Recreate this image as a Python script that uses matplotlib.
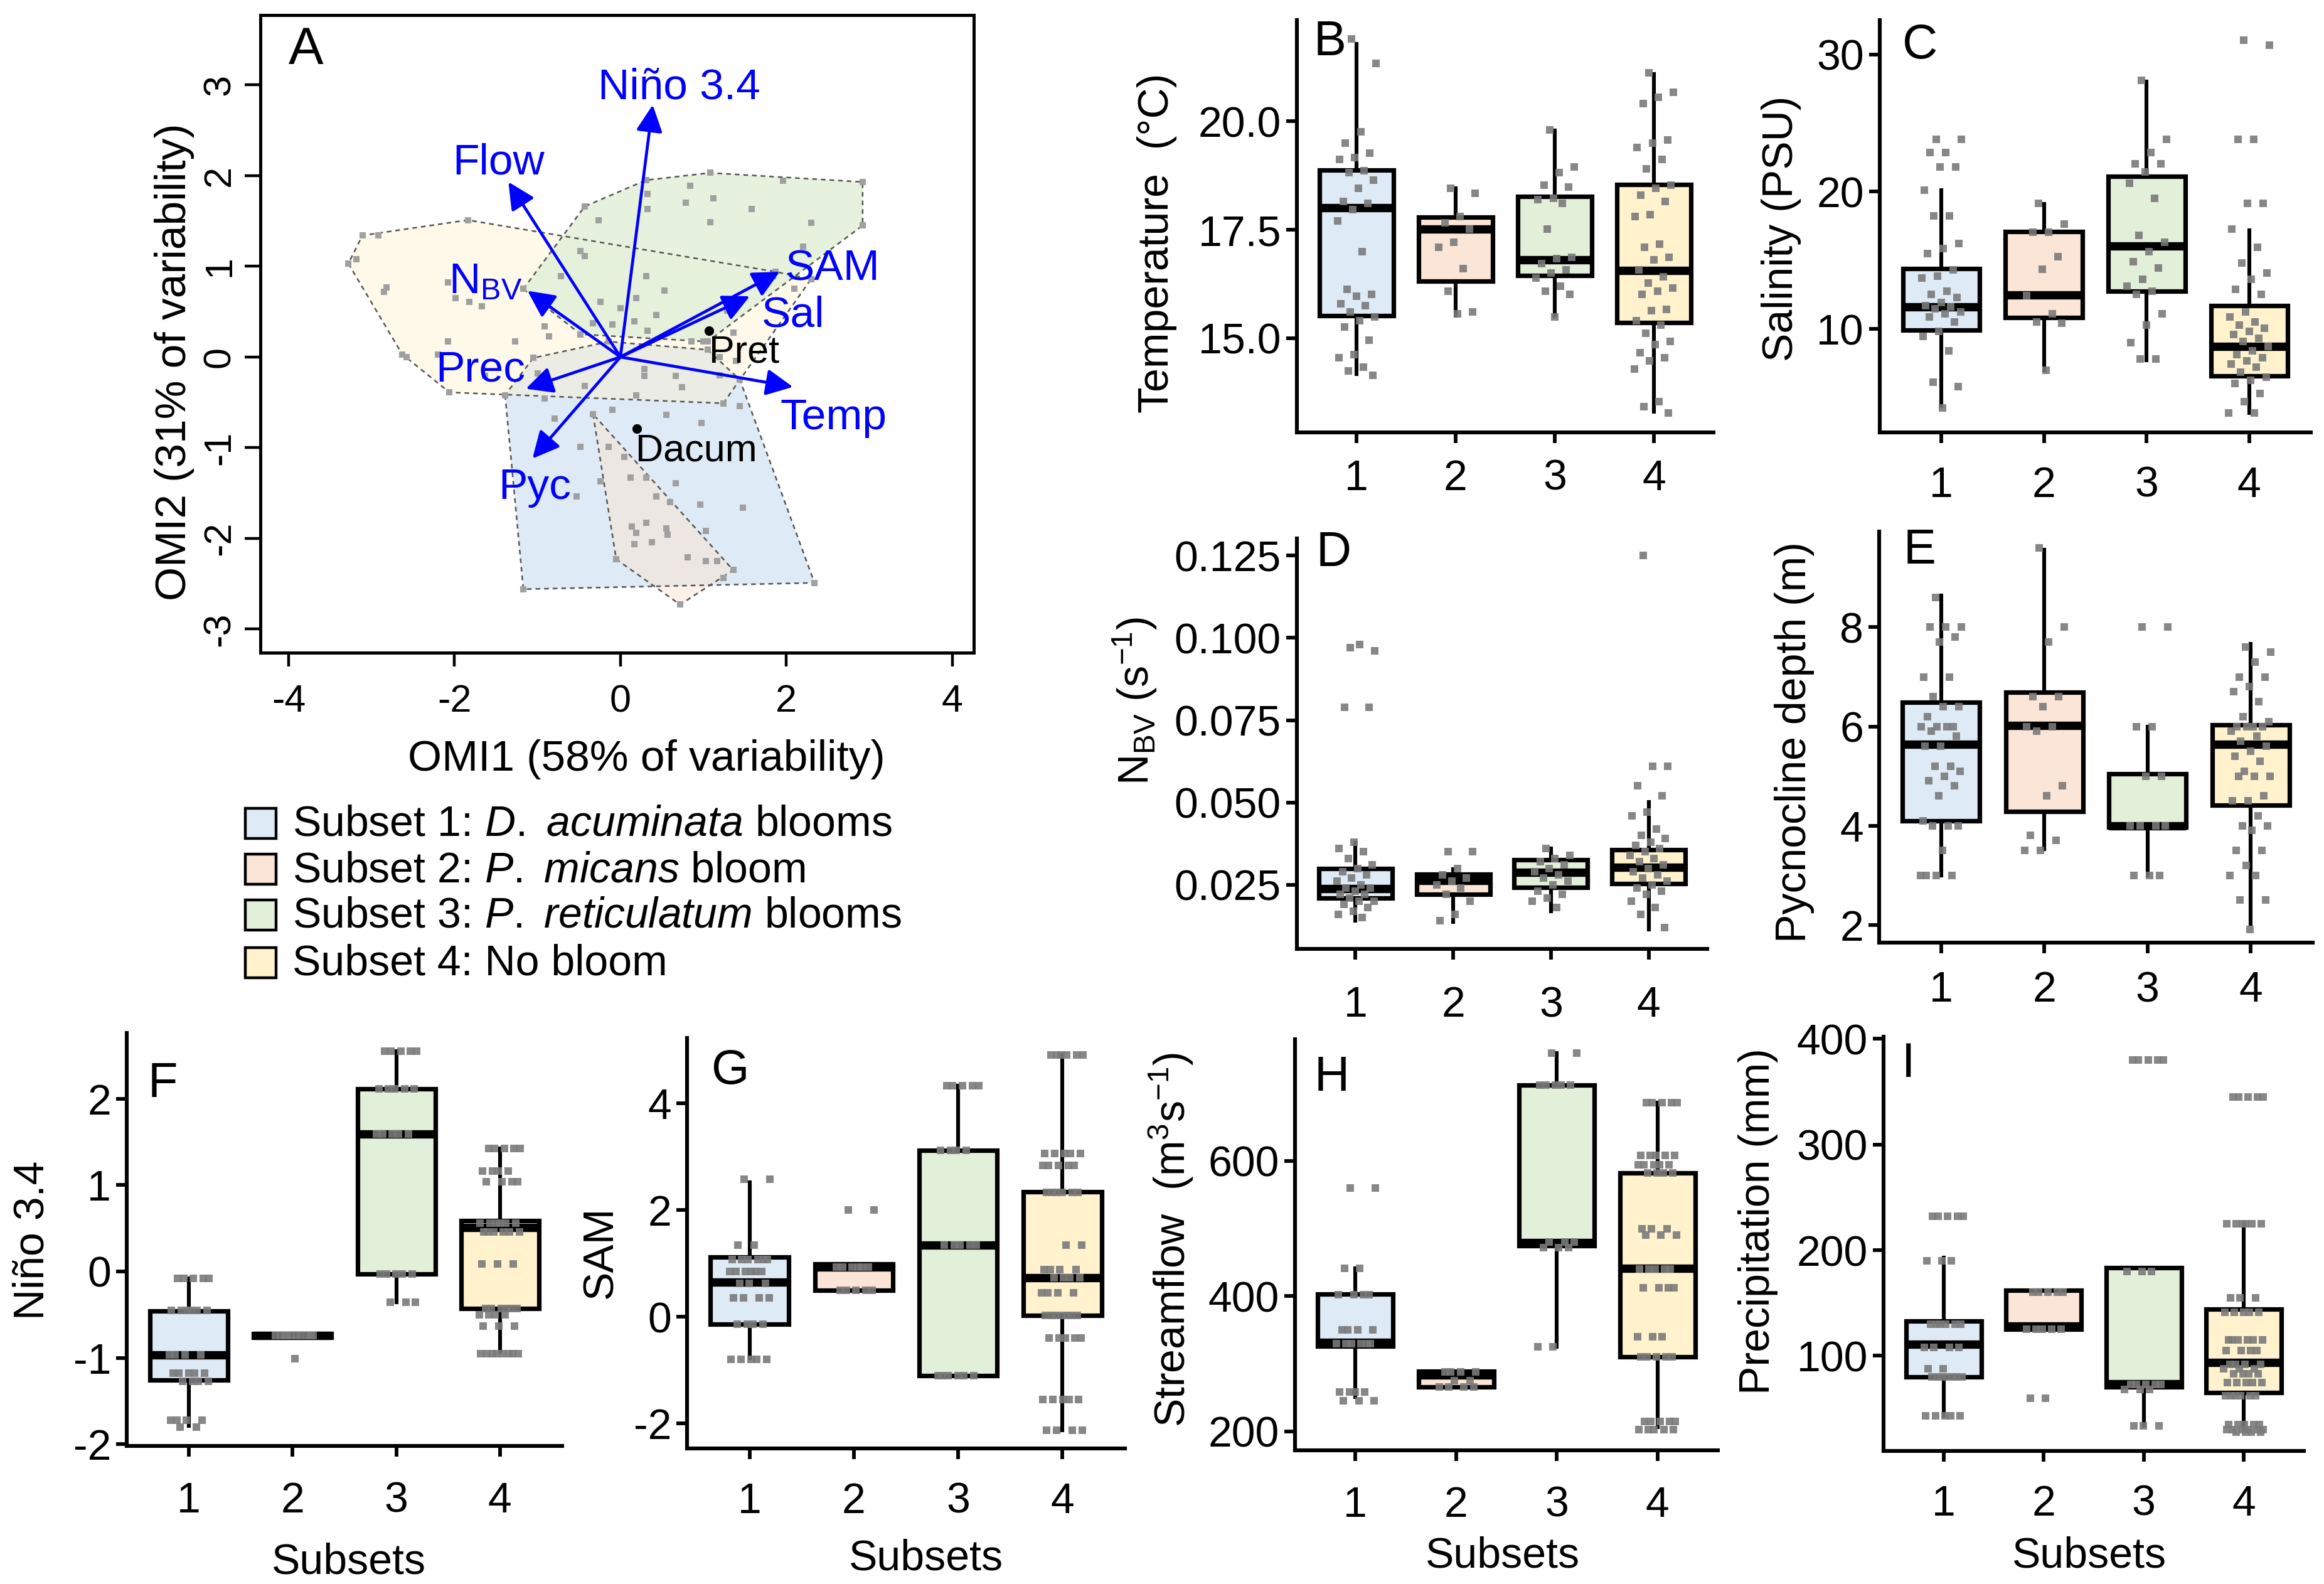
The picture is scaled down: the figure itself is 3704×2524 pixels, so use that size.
import numpy as np
import matplotlib
matplotlib.use('Agg')
import matplotlib.pyplot as plt
from matplotlib.patches import Polygon, Rectangle

plt.rcParams['font.family'] = ['Liberation Sans', 'DejaVu Sans']
plt.rcParams['mathtext.fontset'] = 'custom'
plt.rcParams['mathtext.rm'] = 'Liberation Sans'
plt.rcParams['mathtext.it'] = 'Liberation Sans:italic'
plt.rcParams['mathtext.bf'] = 'Liberation Sans:bold'
plt.rcParams['mathtext.default'] = 'regular'
plt.rcParams['axes.unicode_minus'] = False

# ---------------- data ----------------
subsets = ['1', '2', '3', '4']
subset_colors = ['#DEEBF7', '#FBE5D6', '#E2F0D9', '#FFF2CC']
legend_labels = [r'Subset 1: $\mathit{D.\ acuminata}$ blooms',
                 r'Subset 2: $\mathit{P.\ micans}$ bloom',
                 r'Subset 3: $\mathit{P.\ reticulatum}$ blooms',
                 'Subset 4: No bloom']

# Panel A: OMI sample scores per subset
omi_s1_x = [-1.39, -1.05, -0.14, 1.05, 1.44, 2.34, -1.17, -0.91, -0.79, -0.10, 0.55, 0.98, 1.44, -0.48, -0.14,
            -0.53, -0.24, 0.12, 0.67, 0.96, 1.48, 1.03, 1.24, 0.19, 0.29, 0.74, 1.20, -1.00]
omi_s1_y = [-0.42, -0.01, 0.17, 0.08, -0.25, -2.49, -2.56, -0.46, -0.68, -0.58, -0.64, -0.73, -0.54, -0.99, -0.99,
            -1.54, -1.37, -1.33, -1.39, -1.63, -1.66, -1.92, -2.44, -0.42, -0.13, -0.33, -0.20, -0.18]
omi_s2_x = [-0.33, 1.36, 0.72, -0.05, 0.14, 0.31, 0.19, 0.55, 0.57, 0.17, 0.38, 0.81, 1.03, 1.17, 0.31, 0.05, 0.60, 0.43]
omi_s2_y = [-0.63, -2.35, -2.73, -2.23, -1.87, -1.83, -1.94, -1.89, -1.96, -2.06, -2.04, -2.21, -2.25, -2.25, -1.33,
            -1.10, -1.60, -1.54]
omi_s3_x = [-1.17, -0.43, 0.31, 1.08, 2.92, 2.92, 1.84, 1.05, -0.48, 0.33, 0.84, 0.79, 1.12, 0.33, 1.58, 1.08, 1.96,
            2.30, 2.20, -0.26, -0.48, -0.43, 0.31, 0.53, -0.24, 0.19, 0.00, -0.72, 0.43, 0.17, -0.10, 0.33, -0.33]
omi_s3_y = [0.75, 1.66, 1.95, 2.03, 1.93, 1.45, 0.89, 0.17, 0.25, 1.80, 1.89, 1.70, 1.75, 1.63, 1.63, 1.49, 1.94,
            1.48, 1.22, 1.51, 1.17, 1.11, 0.89, 0.73, 0.61, 0.65, 0.54, 0.89, 0.46, 0.39, 0.36, 0.29, 0.37]
omi_s4_x = [-3.28, -3.11, -1.84, 1.87, 2.30, 1.44, 1.24, -2.06, -2.63, -3.18, -2.92, -2.82, -2.85, -2.08, -1.99,
            -1.82, -1.67, -2.08, -2.20, -1.27, -0.86, -0.91, 2.10, 1.29, 1.00, 1.36, 0.86, 1.39, 1.20, 0.67, 0.29,
            -0.43, -0.91, -1.63, -2.58]
omi_s4_y = [1.03, 1.34, 1.51, 0.94, 0.86, -0.25, -0.51, -0.39, 0.03, 1.08, 1.34, 0.77, 0.72, 0.82, 0.65, 0.61, 0.56,
            0.17, 0.03, 0.17, 0.23, 0.34, 0.75, 0.51, 0.17, 0.27, 0.17, -0.04, 0.00, -0.21, -0.21, -0.32, -0.28,
            -0.21, 0.00]

# Panel A: environmental variable arrows (OMI loadings)
var_names = ['Niño 3.4', 'Flow', r'N$_{\rm BV}$', 'SAM', 'Sal', 'Temp', 'Prec', 'Pyc']
var_x = [0.39, -1.35, -1.12, 1.92, 1.56, 2.08, -1.14, -1.06]
var_y = [2.78, 1.93, 0.73, 0.94, 0.67, -0.33, -0.35, -1.12]
species_names = ['Pret', 'Dacum']
species_x = [1.07, 0.20]
species_y = [0.29, -0.79]

# Boxplot statistics (median, quartiles, whisker ends) per subset
temp_med = [18.00, 17.51, 16.80, 16.56]
temp_q1 = [15.52, 16.31, 16.45, 15.36]
temp_q3 = [18.88, 17.79, 18.26, 18.54]
temp_lo = [14.18, 15.52, 15.52, 13.31]
temp_hi = [21.78, 18.46, 19.78, 21.09]
temp_pts = [
    [21.90, 21.33, 19.76, 19.50, 19.27, 19.16, 19.12, 18.86, 18.82, 18.64, 18.45, 18.15, 18.11, 17.96, 17.70, 16.99,
     16.12, 16.01, 15.97, 15.79, 15.75, 15.60, 15.49, 15.41, 15.26, 14.96, 14.63, 14.55, 14.33, 14.25, 14.14],
    [18.45, 18.34, 17.81, 17.66, 17.51, 17.21, 17.10, 16.61, 16.09, 15.60, 15.56],
    [19.80, 18.94, 18.82, 18.52, 18.49, 18.22, 18.19, 18.11, 17.51, 16.87, 16.84, 16.72, 16.57, 16.50, 16.39, 16.20,
     16.09, 16.01, 15.49],
    [21.11, 20.66, 20.55, 20.40, 19.57, 19.50, 19.39, 19.12, 18.90, 18.52, 18.45, 18.30, 18.15, 17.85, 17.81, 17.17,
     17.10, 16.87, 16.80, 16.57, 16.42, 16.27, 16.16, 16.09, 16.01, 15.67, 15.64, 15.41, 15.30, 15.11, 14.93, 14.85,
     14.66, 14.55, 14.48, 14.29, 13.54, 13.43, 13.28]]

sal_med = [11.59, 12.46, 16.04, 8.74]
sal_q1 = [9.93, 10.81, 12.73, 6.56]
sal_q3 = [14.38, 17.09, 21.11, 11.71]
sal_lo = [4.36, 6.97, 7.73, 3.89]
sal_hi = [20.12, 19.10, 28.00, 17.16]
sal_pts = [
    [23.80, 23.80, 22.84, 22.84, 21.78, 21.78, 20.12, 18.22, 18.22, 16.21, 15.85, 15.50, 14.31, 13.84, 13.72, 12.77,
     12.54, 12.30, 11.94, 11.71, 11.59, 11.47, 11.23, 11.11, 10.88, 10.52, 9.81, 9.45, 8.39, 6.14, 5.78, 4.24],
    [19.17, 17.63, 17.04, 17.04, 15.26, 14.36, 12.42, 11.11, 10.52, 10.40, 6.97],
    [28.10, 23.80, 22.84, 22.01, 22.01, 21.42, 20.59, 19.53, 16.80, 16.33, 15.62, 14.91, 14.43, 13.60, 13.13, 12.77,
     12.54, 11.11, 10.28, 8.98, 7.80, 7.80],
    [31.02, 30.66, 23.80, 23.80, 19.17, 19.17, 17.28, 15.97, 14.79, 14.08, 13.60, 12.89, 12.54, 11.23, 10.88, 10.52,
     10.28, 10.04, 9.81, 9.57, 9.33, 9.10, 8.74, 8.39, 8.15, 7.91, 7.68, 7.44, 7.20, 6.85, 6.49, 6.26, 6.02, 5.31,
     4.72, 3.89, 3.89]]

nbv_med = [0.0238, 0.0263, 0.0287, 0.0302]
nbv_q1 = [0.0209, 0.0221, 0.0242, 0.0253]
nbv_q3 = [0.0300, 0.0282, 0.0325, 0.0357]
nbv_lo = [0.0141, 0.0137, 0.0169, 0.0115]
nbv_hi = [0.0377, 0.0297, 0.0360, 0.0502]
nbv_pts = [
    [0.097, 0.096, 0.098, 0.079, 0.079, 0.038, 0.036, 0.035, 0.033, 0.031, 0.030, 0.029, 0.028, 0.027, 0.026, 0.025,
     0.024, 0.024, 0.023, 0.022, 0.022, 0.021, 0.020, 0.020, 0.019, 0.018, 0.017, 0.016, 0.015],
    [0.035, 0.035, 0.030, 0.028, 0.027, 0.026, 0.025, 0.024, 0.022, 0.020, 0.016, 0.014],
    [0.036, 0.034, 0.033, 0.032, 0.031, 0.030, 0.029, 0.028, 0.027, 0.026, 0.025, 0.023, 0.022, 0.021, 0.020, 0.018],
    [0.125, 0.061, 0.061, 0.055, 0.052, 0.047, 0.046, 0.042, 0.040, 0.039, 0.038, 0.037, 0.036, 0.035, 0.034, 0.033,
     0.032, 0.031, 0.030, 0.029, 0.028, 0.027, 0.026, 0.025, 0.024, 0.023, 0.022, 0.020, 0.018, 0.016, 0.012]]

pyc_med = [5.64, 6.02, 4.00, 5.64]
pyc_q1 = [4.09, 4.28, 3.97, 4.41]
pyc_q3 = [6.49, 6.69, 5.04, 6.03]
pyc_lo = [2.99, 3.52, 2.99, 2.02]
pyc_hi = [8.64, 9.56, 6.00, 7.66]
pyc_pts = [
    [8.6, 8.0, 8.0, 8.0, 7.8, 7.7, 7.0, 7.0, 6.6, 6.4, 6.4, 6.2, 6.0, 6.0, 6.0, 6.0, 5.9, 5.8, 5.6, 5.6, 5.2, 5.2,
     5.1, 5.0, 4.9, 4.8, 4.6, 4.1, 4.0, 4.0, 4.0, 3.5, 3.0, 3.0, 3.0, 3.0],
    [9.6, 8.0, 7.7, 6.6, 6.6, 6.4, 6.0, 6.0, 5.9, 4.8, 4.6, 3.8, 3.7, 3.5, 3.5],
    [8.0, 8.0, 6.0, 6.0, 5.0, 5.0, 4.0, 4.0, 4.0, 4.0, 3.0, 3.0, 3.0],
    [7.6, 7.5, 7.3, 7.0, 7.0, 6.8, 6.7, 6.5, 6.2, 6.1, 6.0, 6.0, 6.0, 6.0, 5.9, 5.8, 5.7, 5.6, 5.5, 5.4, 5.3, 5.1,
     5.0, 5.0, 5.0, 4.6, 4.5, 4.5, 4.2, 4.0, 4.0, 3.9, 3.5, 3.5, 3.2, 3.0, 3.0, 2.5, 2.5, 1.9]]

nino_med = [-0.97, -0.74, 1.59, 0.505]
nino_q1 = [-1.26, -0.76, -0.03, -0.43]
nino_q3 = [-0.455, -0.72, 2.11, 0.59]
nino_lo = [-1.79, -0.76, -0.36, -0.93]
nino_hi = [-0.08, -0.72, 2.55, 1.42]
nino_pts = [
    [-0.08, -0.08, -0.08, -0.08, -0.08, -0.45, -0.45, -0.45, -0.45, -0.45, -0.45, -0.97, -0.97, -0.97, -0.97,
     -1.18, -1.18, -1.18, -1.18, -1.18, -1.27, -1.27, -1.27, -1.27, -1.72, -1.72, -1.72, -1.72, -1.80, -1.80],
    [-0.74, -0.74, -0.74, -0.74, -0.74, -0.74, -0.74, -0.74, -0.74, -0.74, -1.01],
    [2.55, 2.55, 2.55, 2.55, 2.55, 2.11, 2.11, 2.11, 2.11, 2.11, 1.59, 1.59, 1.59, 1.59, 1.59,
     -0.03, -0.03, -0.03, -0.03, -0.03, -0.36, -0.36, -0.36],
    [1.42, 1.42, 1.42, 1.42, 1.42, 1.16, 1.16, 1.16, 1.16, 1.04, 1.04, 1.04, 1.04, 0.56, 0.56, 0.56, 0.56, 0.56,
     0.56, 0.46, 0.46, 0.46, 0.46, 0.46, 0.46, 0.09, 0.09, 0.09, -0.43, -0.43, -0.43, -0.43, -0.43, -0.43,
     -0.50, -0.50, -0.50, -0.50, -0.63, -0.63, -0.63, -0.95, -0.95, -0.95, -0.95, -0.95, -0.95, -0.95, -0.95]]

sam_med = [0.65, 0.93, 1.34, 0.73]
sam_q1 = [-0.14, 0.50, -1.10, 0.03]
sam_q3 = [1.12, 0.99, 3.12, 2.35]
sam_lo = [-0.77, 0.50, -1.10, -2.13]
sam_hi = [2.52, 0.99, 4.33, 4.91]
sam_pts = [
    [2.58, 2.58, 1.35, 1.35, 1.07, 1.07, 1.07, 1.07, 1.07, 1.07, 0.85, 0.85, 0.85, 0.85, 0.85, 0.85, 0.63, 0.63,
     0.63, 0.36, 0.36, 0.36, 0.36, -0.14, -0.14, -0.14, -0.14, -0.80, -0.80, -0.80, -0.80, -0.80],
    [2.00, 2.00, 0.93, 0.93, 0.93, 0.93, 0.93, 0.93, 0.50, 0.50, 0.50, 0.50, 0.50],
    [4.33, 4.33, 4.33, 4.33, 4.33, 3.12, 3.12, 3.12, 3.12, 1.34, 1.34, 1.34, 1.34, 1.34,
     -1.10, -1.10, -1.10, -1.10, -1.10, -1.10],
    [4.91, 4.91, 4.91, 4.91, 4.91, 4.91, 3.06, 3.06, 3.06, 3.06, 3.06, 2.84, 2.84, 2.84, 2.84, 2.84,
     2.33, 2.33, 2.33, 2.33, 2.33, 2.33, 1.34, 1.34, 0.88, 0.88, 0.88, 0.88, 0.73, 0.73, 0.73, 0.73,
     0.45, 0.45, 0.45, 0.45, 0.03, 0.03, 0.03, 0.03, 0.03, 0.03, 0.03, -0.40, -0.40, -0.40, -0.40, -0.40,
     -1.55, -1.55, -1.55, -1.55, -1.55, -2.13, -2.13, -2.13, -2.13]]

flow_med = [331.8, 283.4, 478.8, 441.0]
flow_q1 = [326.4, 265.6, 474.5, 310.0]
flow_q3 = [402.9, 288.7, 712.5, 582.0]
flow_lo = [251.0, 265.6, 324.8, 206.0]
flow_hi = [441.0, 288.7, 760.0, 686.0]
flow_pts = [
    [560, 560, 441, 441, 402, 402, 402, 402, 350, 350, 350, 350, 330, 330, 330, 330, 330, 330,
     258, 258, 258, 258, 245, 245, 245],
    [288, 288, 288, 288, 275, 275, 266, 266, 266, 266],
    [760, 760, 712, 712, 712, 712, 712, 480, 480, 480, 472, 472, 472, 325, 325],
    [686, 686, 686, 686, 686, 608, 608, 608, 608, 608, 594, 594, 594, 594, 594, 582, 582, 582, 582,
     500, 500, 500, 490, 490, 490, 440, 440, 440, 440, 440, 412, 412, 412, 412, 340, 340, 340,
     310, 310, 310, 310, 310, 215, 215, 215, 215, 215, 203, 203, 203, 203, 203]]

prec_med = [110.9, 128.0, 73.3, 93.8]
prec_q1 = [80.1, 125.3, 70.5, 65.4]
prec_q3 = [133.2, 162.2, 183.4, 144.1]
prec_lo = [43.2, 125.3, 34.0, 32.2]
prec_hi = [193.0, 162.2, 183.4, 223.8]
prec_pts = [
    [232, 232, 232, 232, 232, 190, 190, 190, 130, 130, 130, 130, 130, 130, 108, 108, 108, 108, 88, 88,
     80, 80, 80, 80, 80, 80, 80, 43, 43, 43, 43, 43],
    [160, 160, 160, 160, 160, 125, 125, 125, 125, 125, 60, 60],
    [380, 380, 380, 380, 380, 180, 180, 180, 73, 73, 73, 73, 73, 68, 68, 68, 34, 34, 34],
    [345, 345, 345, 345, 345, 225, 225, 225, 225, 225, 225, 155, 155, 155, 141, 141, 141, 141, 141,
     115, 115, 115, 115, 115, 115, 105, 105, 105, 105, 92, 92, 92, 92, 88, 88, 88, 83, 83, 83, 83,
     75, 75, 75, 75, 75, 62, 62, 62, 62, 62, 62, 35, 35, 35, 35, 35, 30, 30, 30, 30, 30, 30, 28, 28, 28, 28]]

# ---------------- figure ----------------
W, H = 3704, 2524
DPI = 200
fig = plt.figure(figsize=(W / DPI, H / DPI), dpi=DPI)


def rect(l, r, t, b):
    return [l / W, 1 - b / H, (r - l) / W, (b - t) / H]


def ftext(x, y, s, **kw):
    fig.text(x / W, 1 - y / H, s, **kw)


def convex_hull(xs, ys):
    pts = sorted(set(zip(xs, ys)))

    def cross(o, a, b):
        return (a[0] - o[0]) * (b[1] - o[1]) - (a[1] - o[1]) * (b[0] - o[0])
    lower, upper = [], []
    for p in pts:
        while len(lower) >= 2 and cross(lower[-2], lower[-1], p) <= 0:
            lower.pop()
        lower.append(p)
    for p in reversed(pts):
        while len(upper) >= 2 and cross(upper[-2], upper[-1], p) <= 0:
            upper.pop()
        upper.append(p)
    return lower[:-1] + upper[:-1]


# ---- Panel A ----
axA = fig.add_axes(rect(415, 1552, 24, 1040))
axA.set_xlim(-4.34, 4.26)
axA.set_ylim(-3.26, 3.77)
groups = [(omi_s1_x, omi_s1_y), (omi_s2_x, omi_s2_y), (omi_s3_x, omi_s3_y), (omi_s4_x, omi_s4_y)]
# fill order: blue, yellow, green, pink
fill_order = [0, 3, 2, 1]
alphas = {0: 1.0, 3: 0.42, 2: 0.85, 1: 0.55}
for gi in fill_order:
    gx, gy = groups[gi]
    hull = convex_hull(gx, gy)
    axA.add_patch(Polygon(hull, closed=True, facecolor=subset_colors[gi], edgecolor='none',
                          alpha=alphas[gi], zorder=1))
for (gx, gy) in groups:
    hull = convex_hull(gx, gy)
    axA.add_patch(Polygon(hull, closed=True, fill=False, edgecolor='#555555', lw=0.9,
                          linestyle=(0, (3, 2.5)), zorder=2))
for (gx, gy) in groups:
    axA.scatter(gx, gy, marker='s', s=14, color='#A0A0A0', linewidths=0, zorder=3)

for tx, ty in zip(var_x, var_y):
    axA.annotate('', xy=(tx, ty), xytext=(0, 0),
                 arrowprops=dict(arrowstyle='-|>,head_length=0.65,head_width=0.32', color='#0000FF',
                                 lw=1.7, mutation_scale=20, shrinkA=0, shrinkB=0), zorder=5)
label_pos = {'Niño 3.4': (0.71, 2.97), 'Flow': (-1.47, 2.14), r'N$_{\rm BV}$': (-1.63, 0.83),
             'SAM': (2.56, 0.97), 'Sal': (2.08, 0.46), 'Temp': (2.57, -0.67), 'Prec': (-1.69, -0.14),
             'Pyc': (-1.03, -1.44)}
for name in var_names:
    lx, ly = label_pos[name]
    axA.text(lx, ly, name, color='#0000FF', fontsize=25, ha='center', va='center', zorder=6)
axA.scatter(species_x, species_y, s=30, color='black', zorder=6, linewidths=0)
axA.text(species_x[0] + 0.0, species_y[0] - 0.24, species_names[0], fontsize=22, ha='left', va='center', zorder=6)
axA.text(species_x[1] - 0.02, species_y[1] - 0.25, species_names[1], fontsize=22, ha='left', va='center', zorder=6)

axA.set_xticks([-4, -2, 0, 2, 4])
axA.set_yticks([-3, -2, -1, 0, 1, 2, 3])
axA.tick_params(axis='x', direction='out', length=8, width=1.6, labelsize=22, pad=10)
axA.tick_params(axis='y', direction='out', length=9, width=1.6, labelsize=22, pad=4)
for lab in axA.get_yticklabels():
    lab.set_rotation(90)
    lab.set_va('center')
for sp in axA.spines.values():
    sp.set_linewidth(1.8)
ftext(488, 80, 'A', fontsize=30, ha='center', va='center')
ftext(1030, 1210, 'OMI1 (58% of variability)', fontsize=25, ha='center', va='center')
ftext(278, 577, 'OMI2 (31% of variability)', fontsize=25, ha='center', va='center', rotation=90)

# ---- Legend ----
lg = fig.add_axes([0, 0, 1, 1])
lg.set_xlim(0, W)
lg.set_ylim(H, 0)
lg.axis('off')
lg.patch.set_visible(False)
leg_y = [1312, 1385, 1458, 1534]
for yc, col, lab in zip(leg_y, subset_colors, legend_labels):
    lg.add_patch(Rectangle((391, yc - 24), 49, 48, facecolor=col, edgecolor='black', lw=1.6))
    lg.text(466, yc + 2, lab, fontsize=24.5, ha='left', va='center')


# ---- Box panels ----
def jitter(n, w=0.2):
    k = np.arange(n)
    return ((k * 0.6180339887 + 0.37) % 1.0 - 0.5) * 2 * w


def box_panel(r, med, q1, q3, lo, hi, pts, ylim, yticks, ytl, xpad=14):
    ax = fig.add_axes(rect(*r))
    stats = [dict(med=m, q1=a, q3=b, whislo=l, whishi=h, fliers=[])
             for m, a, b, l, h in zip(med, q1, q3, lo, hi)]
    bp = ax.bxp(stats, positions=[1, 2, 3, 4], widths=0.75, patch_artist=True, showcaps=False,
                showfliers=False,
                boxprops=dict(lw=2.6, edgecolor='black'),
                medianprops=dict(color='black', lw=4.8, solid_capstyle='butt'),
                whiskerprops=dict(lw=2.2, color='black'), manage_ticks=False)
    for patch, col in zip(bp['boxes'], subset_colors):
        patch.set_facecolor(col)
        patch.set_zorder(2)
    for i, vals in enumerate(pts):
        xs = (i + 1) + jitter(len(vals))
        ax.scatter(xs, vals, marker='s', s=20, color='#7A7A7A', alpha=0.9, linewidths=0, zorder=4)
    ax.set_xlim(0.4, 4.6)
    ax.set_ylim(*ylim)
    ax.set_xticks([1, 2, 3, 4])
    ax.set_xticklabels(subsets)
    ax.set_yticks(yticks)
    ax.set_yticklabels(ytl)
    ax.tick_params(axis='x', direction='out', length=6, width=2.1, labelsize=24.5, pad=xpad)
    ax.tick_params(axis='y', direction='out', length=6, width=2.1, labelsize=24.5, pad=3)
    for s in ['top', 'right']:
        ax.spines[s].set_visible(False)
    for s in ['left', 'bottom']:
        ax.spines[s].set_linewidth(2.2)
    return ax


box_panel((2067, 2731, 32, 689), temp_med, temp_q1, temp_q3, temp_lo, temp_hi, temp_pts,
          (12.83, 22.33), [15.0, 17.5, 20.0], ['15.0', '17.5', '20.0'], xpad=9)
box_panel((2996, 3683, 32, 689), sal_med, sal_q1, sal_q3, sal_lo, sal_hi, sal_pts,
          (2.46, 32.5), [10, 20, 30], ['10', '20', '30'], xpad=13)
box_panel((2067, 2721, 858, 1512), nbv_med, nbv_q1, nbv_q3, nbv_lo, nbv_hi, nbv_pts,
          (0.0055, 0.1302), [0.025, 0.050, 0.075, 0.100, 0.125],
          ['0.025', '0.050', '0.075', '0.100', '0.125'], xpad=15)
box_panel((2995, 3686, 847, 1502), pyc_med, pyc_q1, pyc_q3, pyc_lo, pyc_hi, pyc_pts,
          (1.64, 9.93), [2, 4, 6, 8], ['2', '4', '6', '8'], xpad=10)
box_panel((202, 896, 1646, 2304), nino_med, nino_q1, nino_q3, nino_lo, nino_hi, nino_pts,
          (-2.02, 2.76), [-2, -1, 0, 1, 2], ['-2', '-1', '0', '1', '2'], xpad=14)
box_panel((1095, 1793, 1654, 2308), sam_med, sam_q1, sam_q3, sam_lo, sam_hi, sam_pts,
          (-2.47, 5.23), [-2, 0, 2, 4], ['-2', '0', '2', '4'], xpad=13)
box_panel((2064, 2738, 1656, 2311), flow_med, flow_q1, flow_q3, flow_lo, flow_hi, flow_pts,
          (172, 780), [200, 400, 600], ['200', '400', '600'], xpad=14)
box_panel((3002, 3672, 1652, 2312), prec_med, prec_q1, prec_q3, prec_lo, prec_hi, prec_pts,
          (10, 402), [100, 200, 300, 400], ['100', '200', '300', '400'], xpad=13)

# panel letters
for (x, y, s) in [(2120, 67, 'B'), (3060, 72, 'C'), (2126, 881, 'D'), (3060, 878, 'E'),
                  (259, 1727, 'F'), (1163, 1707, 'G'), (2123, 1718, 'H'), (3042, 1695, 'I')]:
    ftext(x, y, s, fontsize=28, ha='center', va='center')

# y labels
for (x, y, s) in [(1844, 387, 'Temperature  (°C)'), (2839, 364, 'Salinity (PSU)'),
                  (1809, 1117, r'N$_{\rm BV}$ (s$^{-1}$)'), (2860, 1183, 'Pycnocline depth (m)'),
                  (51, 1976, 'Niño 3.4'), (957, 1995, 'SAM'),
                  (1867, 1975, r'Streamflow  (m$^{3}$s$^{-1}$)'), (2802, 1946, 'Precipitation (mm)')]:
    ftext(x, y, s, fontsize=24.5, ha='center', va='center', rotation=90)

# x labels
for (x, y) in [(556, 2489), (1476, 2483), (2395, 2480), (3330, 2480)]:
    ftext(x, y, 'Subsets', fontsize=24.5, ha='center', va='center')

fig.savefig('out.png', dpi=DPI)
